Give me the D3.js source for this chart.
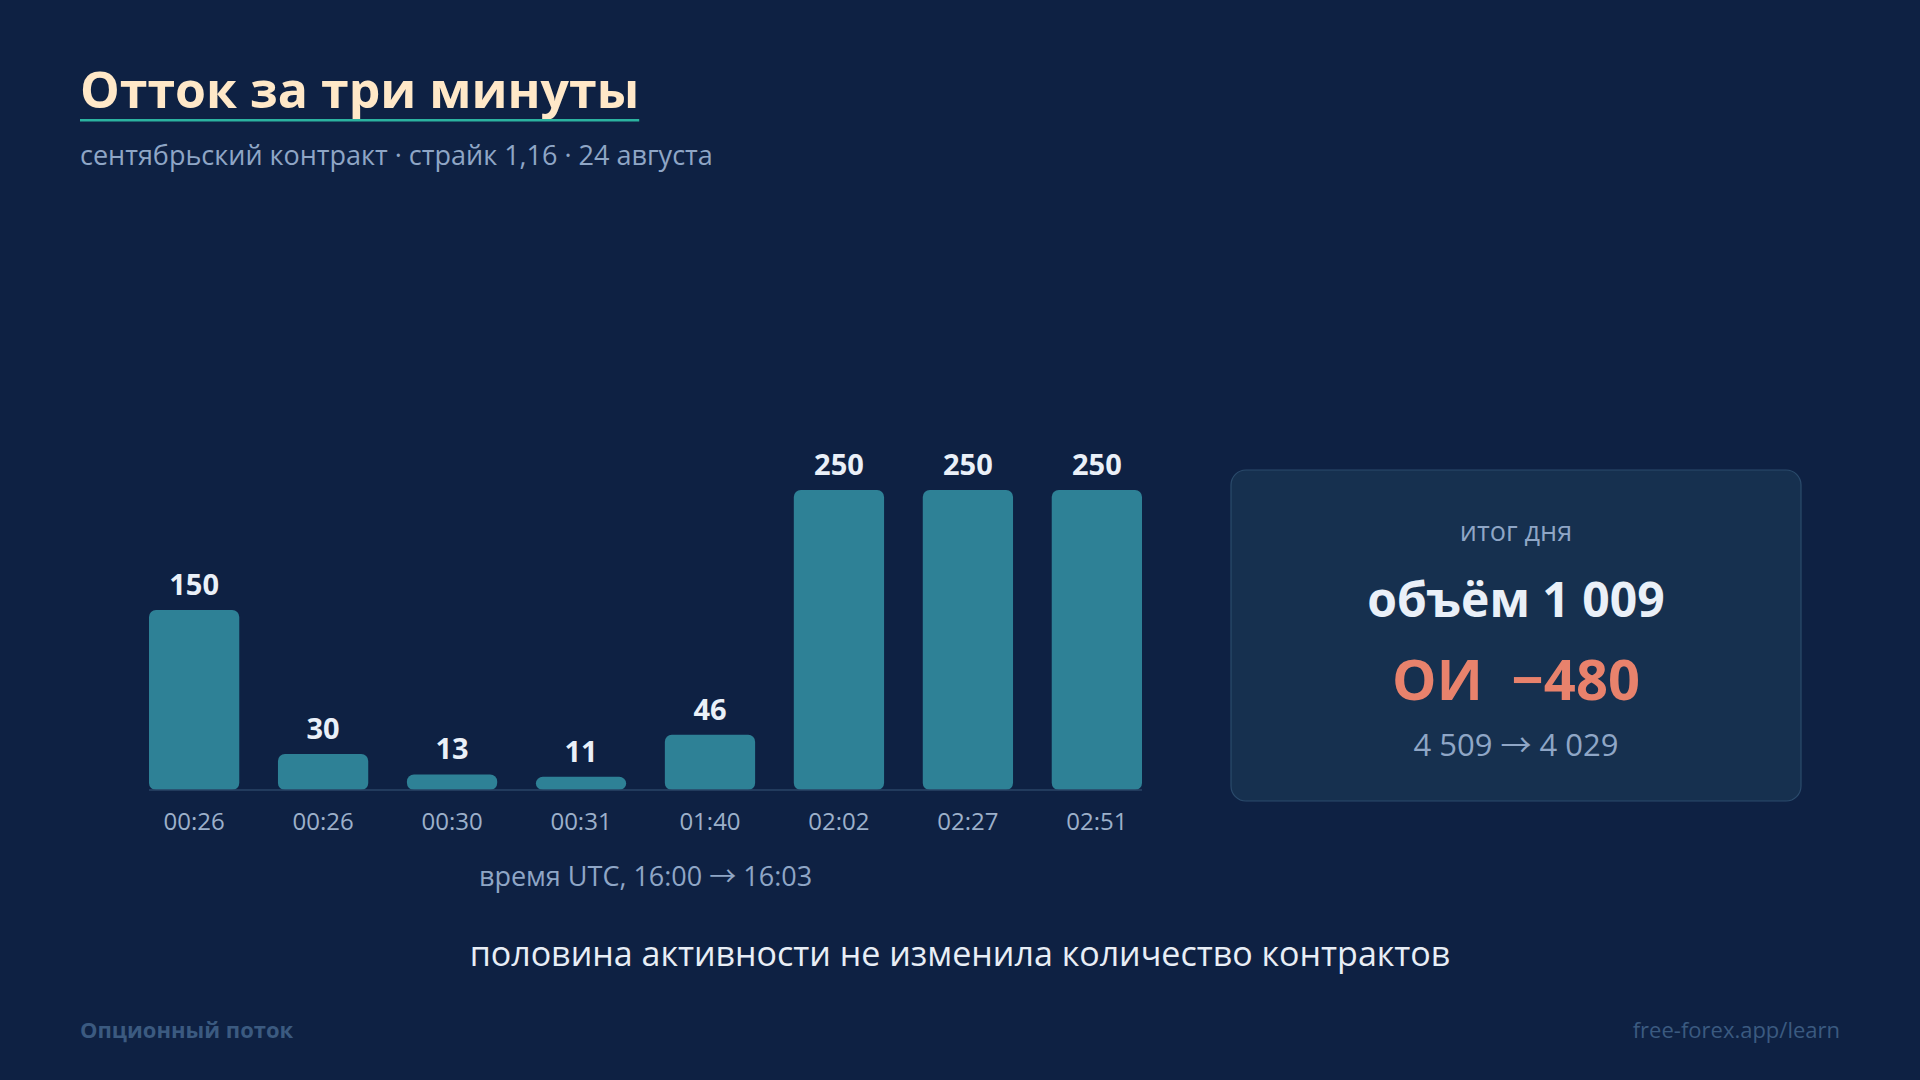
<!DOCTYPE html>
<html lang="ru">
<head>
<meta charset="utf-8">
<title>Отток за три минуты</title>
<script src="https://cdn.jsdelivr.net/npm/d3@7"></script>
<style>
  html, body { margin: 0; padding: 0; background: #0e2143; }
  svg { display: block; font-family: "Open Sans", sans-serif; }
  .arrow { font-family: "Noto Sans CJK SC", sans-serif; }
</style>
</head>
<body>
<svg id="chart" width="1920" height="1080"></svg>
<script>
// data
const times = ["00:26", "00:26", "00:30", "00:31", "01:40", "02:02", "02:27", "02:51"];
const volumes = [150, 30, 13, 11, 46, 250, 250, 250];
const summaryVolume = "1 009";
const summaryOI = "−480";
const oiFrom = "4 509";
const oiTo = "4 029";

const W = 1920, H = 1080;
const svg = d3.select("#chart");

svg.append("rect").attr("width", W).attr("height", H).attr("fill", "#0e2143");

// text with the arrow glyph taken from a font that has a long thin arrow
function arrowText(sel, left, right) {
  sel.append("tspan").text(left + " ");
  sel.append("tspan").attr("class", "arrow").text("→");
  sel.append("tspan").text(" " + right);
}

// title + underline
const title = svg.append("text")
  .attr("x", 80).attr("y", 108)
  .attr("font-size", 50).attr("font-weight", 700)
  .attr("fill", "#ffe8c8")
  .text("Отток за три минуты");
const tw = title.node().getComputedTextLength();
svg.append("rect")
  .attr("x", 80).attr("y", 119)
  .attr("width", tw).attr("height", 2.5)
  .attr("fill", "#2bb3a0");

svg.append("text")
  .attr("x", 80).attr("y", 165)
  .attr("font-size", 27)
  .attr("fill", "#8fa6c6")
  .text("сентябрьский контракт · страйк 1,16 · 24 августа");

// bar chart
const margin = { left: 149, right: 1142, top: 490, bottom: 790 };

const x = d3.scaleBand()
  .domain(d3.range(times.length))
  .range([margin.left, margin.right])
  .paddingInner(0.3)
  .paddingOuter(0);

const y = d3.scaleLinear()
  .domain([0, 250])
  .range([margin.bottom, margin.top]);

const g = svg.append("g");

g.selectAll(".bar")
  .data(volumes)
  .enter()
  .append("rect")
  .attr("class", "bar")
  .attr("x", (d, i) => x(i))
  .attr("y", d => y(d))
  .attr("width", x.bandwidth())
  .attr("height", d => y(0) - y(d))
  .attr("rx", 7)
  .attr("fill", "#2e8196");

g.append("line")
  .attr("x1", margin.left).attr("x2", margin.right)
  .attr("y1", y(0)).attr("y2", y(0))
  .attr("stroke", "#2a4466").attr("stroke-width", 1.5);

g.selectAll(".val")
  .data(volumes)
  .enter()
  .append("text")
  .attr("class", "val")
  .attr("x", (d, i) => x(i) + x.bandwidth() / 2)
  .attr("y", d => y(d) - 15)
  .attr("text-anchor", "middle")
  .attr("font-size", 29).attr("font-weight", 700)
  .attr("fill", "#eaf0f8")
  .text(d => d);

const xAxis = g.append("g")
  .attr("transform", `translate(0,${y(0)})`)
  .call(d3.axisBottom(x).tickFormat(i => times[i]).tickSize(0).tickPadding(0));
xAxis.select(".domain").remove();
xAxis.selectAll("text")
  .attr("dy", 0).attr("y", 40)
  .attr("font-family", "'Open Sans', sans-serif")
  .attr("font-size", 24)
  .attr("fill", "#9cb0ca");

g.append("text")
  .attr("x", (margin.left + margin.right) / 2).attr("y", 886)
  .attr("text-anchor", "middle")
  .attr("font-size", 27)
  .attr("fill", "#8fa6c6")
  .call(arrowText, "время UTC, 16:00", "16:03");

// summary card
const card = svg.append("g").attr("transform", "translate(1231,470)");
const cw = 570, ch = 331;
card.append("rect")
  .attr("width", cw).attr("height", ch)
  .attr("rx", 15)
  .attr("fill", "#16304f")
  .attr("stroke", "#2b4b6c").attr("stroke-width", 1.2);

card.append("text")
  .attr("x", cw / 2).attr("y", 71)
  .attr("text-anchor", "middle")
  .attr("font-size", 27).attr("fill", "#8fa6c6")
  .text("итог дня");

card.append("text")
  .attr("x", cw / 2).attr("y", 147)
  .attr("text-anchor", "middle")
  .attr("font-size", 48).attr("font-weight", 700).attr("fill", "#eaf0f8")
  .text(`объём ${summaryVolume}`);

card.append("text")
  .attr("x", cw / 2).attr("y", 230)
  .attr("text-anchor", "middle")
  .attr("font-size", 56).attr("font-weight", 700).attr("fill", "#e8826c")
  .style("white-space", "pre")
  .text(`ОИ  ${summaryOI}`);

card.append("text")
  .attr("x", cw / 2).attr("y", 286)
  .attr("text-anchor", "middle")
  .attr("font-size", 31).attr("fill", "#8fa6c6")
  .call(arrowText, oiFrom, oiTo);

// caption and footer
svg.append("text")
  .attr("x", W / 2).attr("y", 966)
  .attr("text-anchor", "middle")
  .attr("font-size", 34).attr("fill", "#e8eef6")
  .text("половина активности не изменила количество контрактов");

svg.append("text")
  .attr("x", 80).attr("y", 1038)
  .attr("font-size", 22).attr("font-weight", 700).attr("fill", "#3b5a80")
  .text("Опционный поток");

svg.append("text")
  .attr("x", 1840).attr("y", 1038)
  .attr("text-anchor", "end")
  .attr("font-size", 22).attr("fill", "#3b5a80")
  .text("free-forex.app/learn");
</script>
</body>
</html>
